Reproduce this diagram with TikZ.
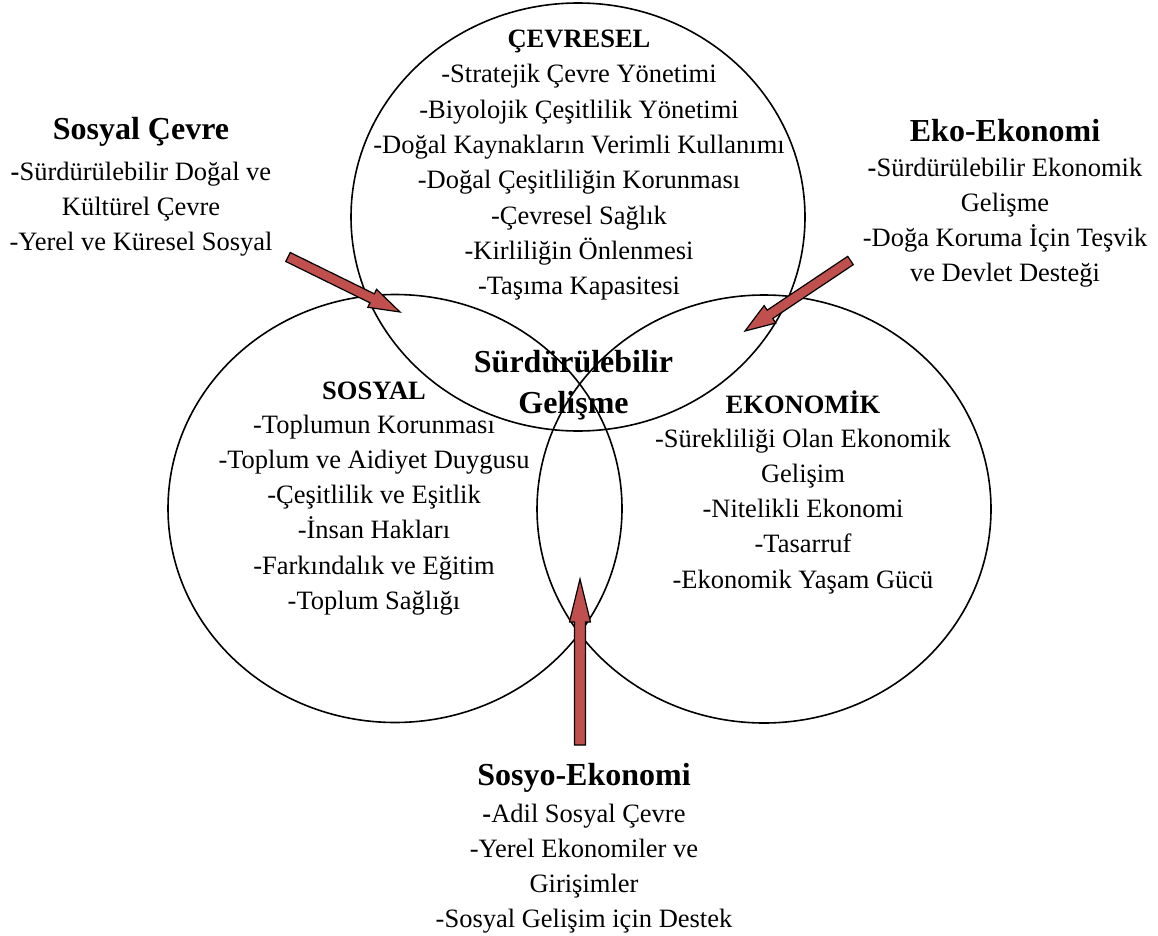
\documentclass[tikz,border=0pt]{standalone}
\usepackage{fontspec}
\setmainfont{Liberation Serif}
\usetikzlibrary{calc,shapes.geometric}
\definecolor{arrred}{HTML}{C0504D}
\newcommand\blockarrow[5]{% tail, tip, shaft half width, head half width, head length
  \coordinate (hb) at ($(#2)!#5!(#1)$);
  \draw[blockarr] ($(#1)!#3!90:(#2)$) -- ($(hb)!#3!90:(#2)$) -- ($(hb)!#4!90:(#2)$) -- (#2)
     -- ($(hb)!#4!-90:(#2)$) -- ($(hb)!#3!-90:(#2)$) -- ($(#1)!#3!-90:(#2)$) -- cycle;}
\tikzset{
  body/.style={font=\fontsize{26.5}{30}\selectfont, inner sep=0pt, anchor=base},
  head/.style={font=\fontsize{32}{36}\selectfont\bfseries, inner sep=0pt, anchor=base},
  caps/.style={font=\fontsize{26.5}{30}\selectfont\bfseries, inner sep=0pt, anchor=base},
  ring/.style={ellipse, draw, line width=1.6pt, minimum width=454pt, minimum height=428pt, inner sep=0pt},
  blockarr/.style={draw=black, line width=1.2pt, fill=arrred, line join=miter},
}
\begin{document}
\begin{tikzpicture}[x=1pt,y=-1pt]
\useasboundingbox (0,0) rectangle (1158,936);
% circles
\node[ring] (cevre) at (578,217) {};
\node[ring] (sosyal) at (395,508.5) {};
\node[ring] (ekonomi) at (764,509) {};
% arrows
\coordinate (la1) at (288,257); \coordinate (la2) at (400,312);
\coordinate (ra1) at (850.5,260.5); \coordinate (ra2) at (745,331);
\coordinate (ba1) at (580,745); \coordinate (ba2) at (580,579);
\blockarrow{la1}{la2}{5pt}{10pt}{31pt}
\blockarrow{ra1}{ra2}{5pt}{10.5pt}{30pt}
\blockarrow{ba1}{ba2}{5.5pt}{10.5pt}{43pt}
% top circle
\node[caps] (cevT) at (579,48) {ÇEVRESEL};
\foreach \t [count=\i] in {-Stratejik Çevre Yönetimi,-Biyolojik Çeşitlilik Yönetimi,-Doğal Kaynakların Verimli Kullanımı,-Doğal Çeşitliliğin Korunması,-Çevresel Sağlık,-Kirliliğin Önlenmesi,-Taşıma Kapasitesi}
  \node[body] (cev\i) at (579,{83+35.3*(\i-1)}) {\t};
% left circle
\node[caps] (sosT) at (374,399) {SOSYAL};
\foreach \t [count=\i] in {-Toplumun Korunması,-Toplum ve Aidiyet Duygusu,-Çeşitlilik ve Eşitlik,-İnsan Hakları,-Farkındalık ve Eğitim,-Toplum Sağlığı}
  \node[body] (sos\i) at (374,{433+35.3*(\i-1)}) {\t};
% right circle
\node[caps] (ekoT) at (803,413) {EKONOMİK};
\foreach \t [count=\i] in {-Sürekliliği Olan Ekonomik,Gelişim,-Nitelikli Ekonomi,-Tasarruf,-Ekonomik Yaşam Gücü}
  \node[body] (eko\i) at (803,{447+35.3*(\i-1)}) {\t};
% centre
\node[head] (sg1) at (573.5,372) {Sürdürülebilir};
\node[head] (sg2) at (573.5,413) {Gelişme};
% Sosyal Cevre
\node[head] (scT) at (141,140) {Sosyal Çevre};
\foreach \t [count=\i] in {{\textbf{-}Sürdürülebilir Doğal ve},Kültürel Çevre,-Yerel ve Küresel Sosyal}
  \node[body] (sc\i) at (141,{180+35.3*(\i-1)}) {\t};
% Eko-Ekonomi
\node[head] (eeT) at (1005,142) {Eko-Ekonomi};
\foreach \t [count=\i] in {{\textbf{-}Sürdürülebilir Ekonomik},Gelişme,-Doğa Koruma İçin Teşvik,ve Devlet Desteği}
  \node[body] (ee\i) at (1005,{176+35.3*(\i-1)}) {\t};
% Sosyo-Ekonomi
\node[head] (seT) at (584,785) {Sosyo-Ekonomi};
\foreach \t [count=\i] in {{\textbf{-}Adil Sosyal Çevre},-Yerel Ekonomiler ve,Girişimler,-Sosyal Gelişim için Destek}
  \node[body] (se\i) at (584,{822+35.3*(\i-1)}) {\t};
\end{tikzpicture}
\end{document}
